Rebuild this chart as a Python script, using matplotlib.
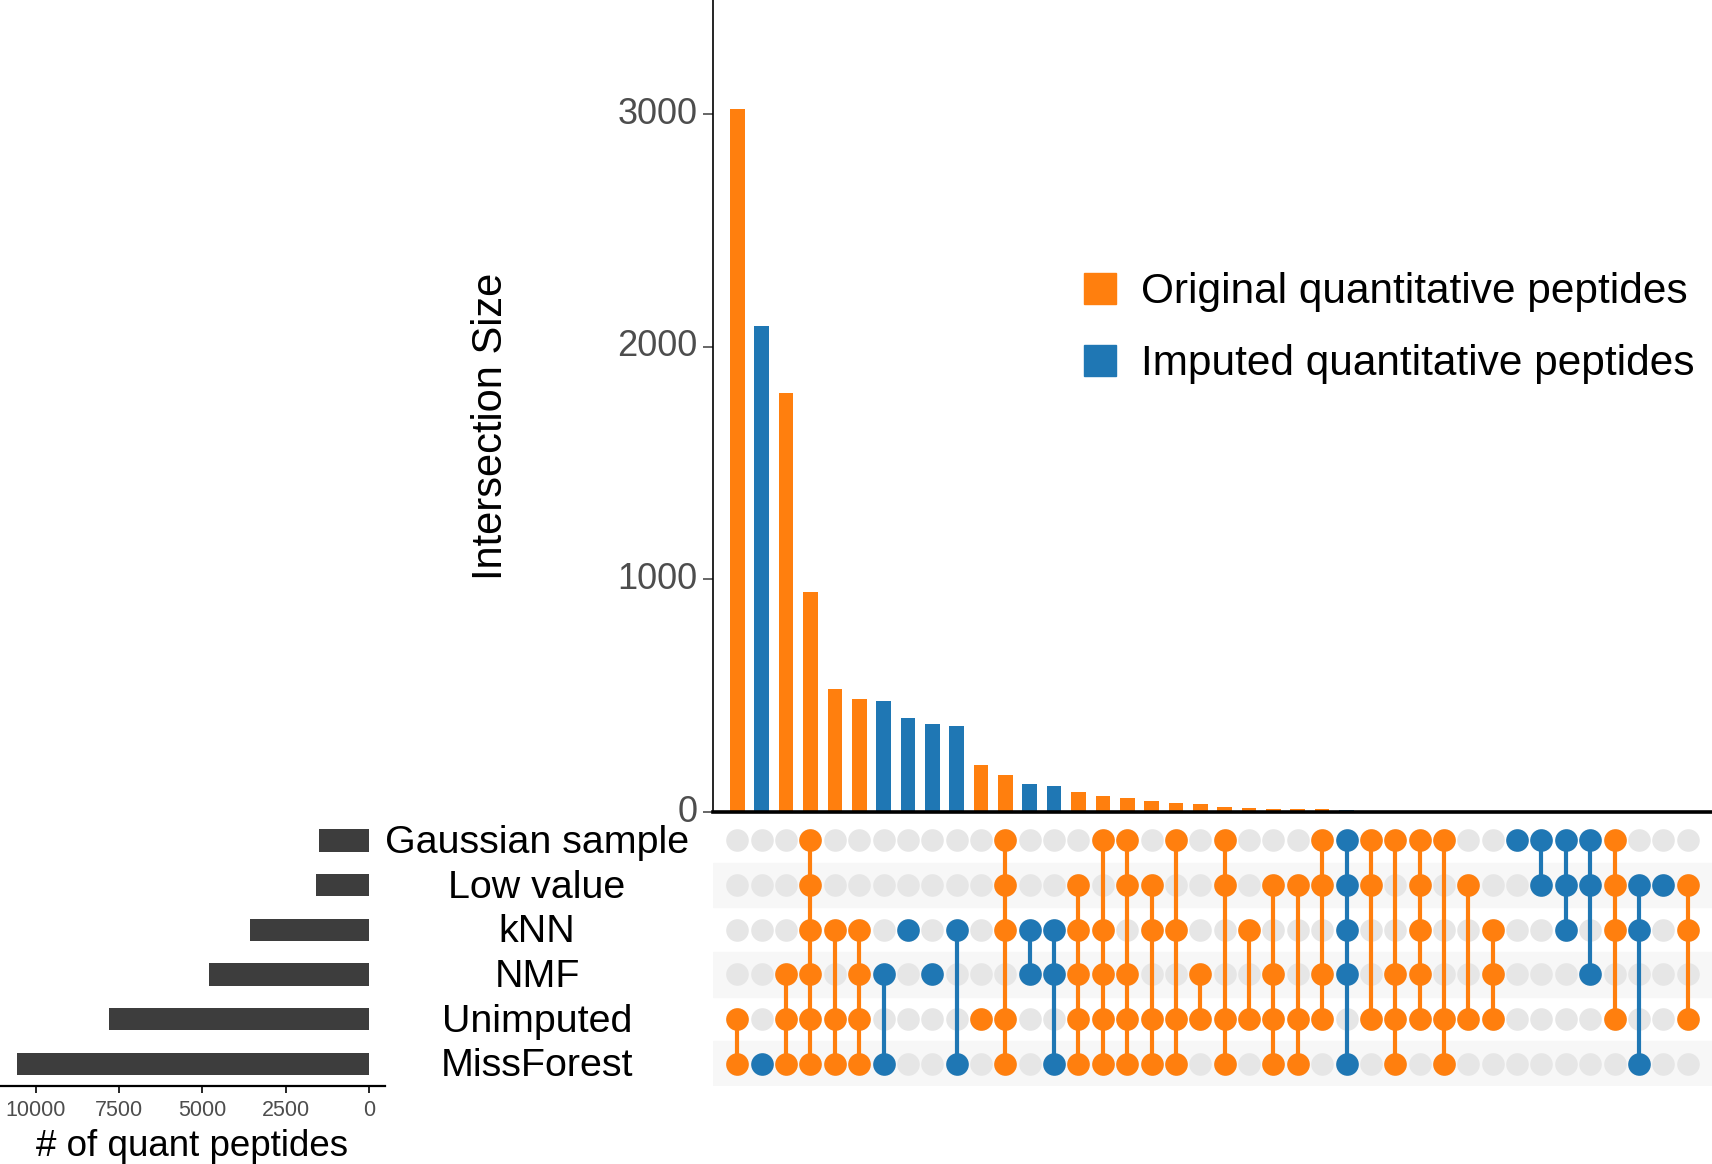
import matplotlib
matplotlib.use("Agg")
import matplotlib.pyplot as plt
import matplotlib.transforms as mtrans
from matplotlib.patches import Patch

plt.rcParams['font.family'] = ['Liberation Sans', 'DejaVu Sans']

# sets, top to bottom in the matrix
sets = ["Gaussian sample", "Low value", "kNN", "NMF", "Unimputed", "MissForest"]
set_codes = ["G", "L", "K", "N", "U", "M"]
set_sizes = [1500, 1570, 3580, 4810, 7790, 10570]

# intersections (ordered by size) - membership codes
members = ["UM", "M", "NUM", "GLKNUM", "KUM", "KNUM", "NM", "K", "N", "KM",
           "U", "GLKUM", "KN", "KNM", "LKNUM", "GKNUM", "GLNUM", "LKUM", "GKUM", "NU",
           "GLUM", "KU", "LNUM", "LUM", "GLNU", "GLKNM", "GLU", "GNUM", "GLKNU", "GUM",
           "LU", "KNU", "G", "GL", "GLK", "GLN", "GLKU", "LKM", "L", "LKU"]
inter_sizes = [3020, 2090, 1800, 945, 530, 487, 478, 403, 377, 370,
               201, 158, 122, 111, 86, 67, 59, 46, 37, 35,
               20, 16, 14, 12, 11, 7, 4, 4, 3, 2,
               1, 1, 1, 1, 1, 1, 1, 1, 1, 1]

orange = '#ff7f0e'
blue = '#1f77b4'
labels_leg = ["Original quantitative peptides", "Imputed quantitative peptides"]

# orange = contains Unimputed, blue = imputed only
colors = [orange if "U" in m else blue for m in members]
xs = list(range(len(members)))

W, H = 1712, 1164
fig = plt.figure(figsize=(W / 100, H / 100), dpi=100)

# ---- intersection size bars
axb = fig.add_axes([713 / W, 1 - 812 / H, 999 / W, 812 / H])
axb.bar(xs, inter_sizes, width=0.6, color=colors)
axb.set_xlim(-1, 40)
axb.set_ylim(0, 3490)
axb.set_yticks([0, 1000, 2000, 3000])
axb.tick_params(axis='y', labelsize=26, labelcolor='#4d4d4d', color='#4d4d4d',
                length=7, width=1.2, pad=4)
# nudge tick labels up a touch, like the original
up = mtrans.ScaledTranslation(0, 4 / 100, fig.dpi_scale_trans)
for lab in axb.get_yticklabels():
    lab.set_transform(lab.get_transform() + up)
axb.set_xticks([])
for s in ['top', 'right']:
    axb.spines[s].set_visible(False)
axb.spines['bottom'].set_linewidth(2.6)
axb.spines['left'].set_linewidth(1.2)
fig.text(491 / W, 1 - 426 / H, "Intersection Size", rotation=90, fontsize=30,
         ha='center', va='center')
handles = [Patch(color=orange), Patch(color=blue)]
axb.legend(handles, labels_leg, loc='upper left', bbox_to_anchor=(0.333, 0.712),
           frameon=False, fontsize=30.5, handlelength=0.76, handleheight=0.76,
           handletextpad=0.58, labelspacing=0.76)

# ---- matrix
mtop, mbot = 818, 1086
axm = fig.add_axes([713 / W, 1 - mbot / H, 999 / W, (mbot - mtop) / H])
axm.set_xlim(-1, 40)
axm.set_ylim(5.5, -0.5)
for i in range(len(sets)):
    if i % 2 == 1:
        axm.axhspan(i - 0.5, i + 0.5, color='#f7f7f7', zorder=0)
for j, m in enumerate(members):
    rows = [set_codes.index(c) for c in m]
    axm.scatter([j] * len(sets), range(len(sets)), s=265, color='#e6e6e6',
                zorder=1, linewidths=0)
    if len(rows) > 1:
        axm.plot([j, j], [min(rows), max(rows)], color=colors[j], lw=3, zorder=2)
    axm.scatter([j] * len(rows), rows, s=265, color=colors[j], zorder=3,
                linewidths=0)
axm.axis('off')
lab_tr = mtrans.blended_transform_factory(fig.transFigure, axm.transData)
for i, name in enumerate(sets):
    axm.text(537 / W, i + 0.06, name, transform=lab_tr,
             ha='center', va='center', fontsize=28.4)

# ---- set sizes
axs = fig.add_axes([0, 1 - mbot / H, 385 / W, (mbot - mtop) / H])
axs.barh(range(len(sets)), set_sizes, height=0.5, color='#3d3d3d')
axs.set_ylim(5.5, -0.5)
axs.set_xlim(11080, -490)
axs.set_xticks([0, 2500, 5000, 7500, 10000])
axs.set_yticks([])
axs.tick_params(axis='x', labelsize=15.5, labelcolor='#4d4d4d', length=5,
                width=1.2, pad=5)
for s in ['top', 'right', 'left']:
    axs.spines[s].set_visible(False)
axs.spines['bottom'].set_linewidth(1.6)
axs.set_xlabel("# of quant peptides", fontsize=26.5, labelpad=6)

fig.savefig("out.png", dpi=100)
